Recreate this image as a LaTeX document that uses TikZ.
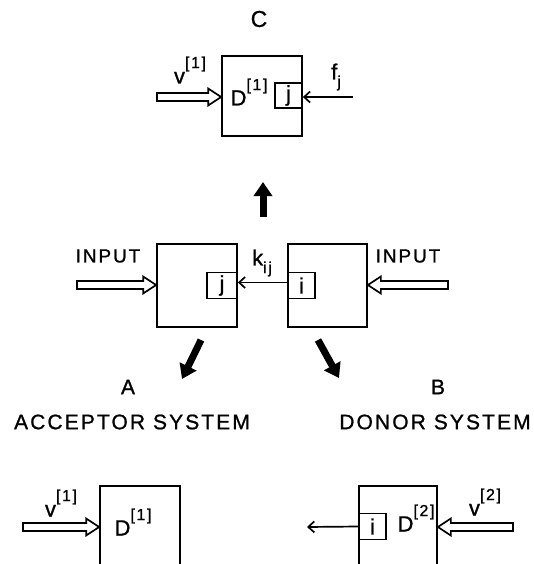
\documentclass[tikz,border=0pt]{standalone}
\usepackage{fontspec}
\setmainfont{Liberation Sans}[LetterSpace=10,FakeBold=1]
\usetikzlibrary{arrows.meta,positioning,calc}

\newcommand{\idx}[2]{#1\raisebox{0.7em}{\fontsize{16}{16}\selectfont[#2]}}
\newcommand{\sub}[2]{#1\raisebox{-0.35em}{\fontsize{16}{16}\selectfont #2}}

\begin{document}
\begin{tikzpicture}[x=1pt,y=-1pt,font=\fontsize{22}{24}\selectfont,
  sysbox/.style={draw,line width=1.7pt,inner sep=0pt},
  cellbox/.style={draw,line width=1.7pt,inner sep=0pt,minimum width=27pt,minimum height=26pt},
  inflow/.style={line width=1.7pt,line join=miter,to path={
    ($(\tikztostart)!4pt!90:(\tikztotarget)$)
    -- ($($(\tikztotarget)!13pt!(\tikztostart)$)!4pt!-90:(\tikztostart)$)
    -- ($($(\tikztotarget)!13pt!(\tikztostart)$)!8.5pt!-90:(\tikztostart)$)
    -- (\tikztotarget)
    -- ($($(\tikztotarget)!13pt!(\tikztostart)$)!8.5pt!90:(\tikztostart)$)
    -- ($($(\tikztotarget)!13pt!(\tikztostart)$)!4pt!90:(\tikztostart)$)
    -- ($(\tikztostart)!4pt!-90:(\tikztotarget)$) -- cycle}},
  coupling/.style={line width=1.7pt,-{Straight Barb[length=6pt,width=11pt]}},
  bigarrow/.style={line width=7pt,-{Triangle[length=14pt,width=18pt]}},
  lbl/.style={inner sep=0pt}]
  \useasboundingbox (0,0) rectangle (533,564);
  \clip (0,0) rectangle (533,564);

  % C: combined system
  \node[lbl,font=\fontsize{23}{24}\selectfont] (labC) at (259,19) {C};
  \node[sysbox,minimum width=80pt,minimum height=80pt] (boxC) at (262,96) {};
  \node[cellbox,minimum height=25pt,anchor=east] (jC) at ([yshift=0.5pt]boxC.east) {j};
  \node[lbl] (DC) at (249,92) {\idx{D}{1}};
  \node[lbl] (vC) at (190,70) {\idx{v}{1}};
  \node[lbl] (fC) at (336,77) {\sub{f}{j}};
  \coordinate (inC) at (157,97);
  \coordinate (fromC) at (353,97);
  \draw[inflow] (inC) to (boxC.west |- inC);
  \draw[coupling] (fromC) -- (jC.east |- fromC);

  % arrow towards C
  \coordinate (upS) at (263,217);
  \coordinate (upE) at (263,182);
  \draw[bigarrow] (upS) -- (upE);

  % coupled systems A and B
  \node[sysbox,minimum width=80pt,minimum height=83pt] (boxA) at (197,285.5) {};
  \node[cellbox,minimum width=30pt,anchor=east] (jA) at (boxA.east) {j};
  \node[sysbox,minimum width=79pt,minimum height=83pt] (boxB) at (327.5,285.5) {};
  \node[cellbox,anchor=west] (iB) at (boxB.west) {i};
  \draw[coupling] ([yshift=3pt]iB.west) -- ([yshift=3pt]jA.east);
  \node[lbl] (kAB) at (262,263) {\sub{k}{ij}};
  \node[lbl,font=\fontsize{19}{20}\selectfont] (inA) at (108,256) {INPUT};
  \node[lbl,font=\fontsize{19}{20}\selectfont] (inB) at (408,256) {INPUT};
  \coordinate (srcA) at (77,285);
  \coordinate (srcB) at (448,285);
  \draw[inflow] (srcA) to (boxA.west |- srcA);
  \draw[inflow] (srcB) to (boxB.east |- srcB);

  % arrows towards A and B
  \coordinate (dlS) at (201,340);
  \coordinate (dlE) at (182,379);
  \coordinate (drS) at (318,340);
  \coordinate (drE) at (339,378);
  \draw[bigarrow] (dlS) -- (dlE);
  \draw[bigarrow] (drS) -- (drE);

  \node[lbl,font=\fontsize{21}{22}\selectfont] (labA) at (128,387) {A};
  \node[lbl,font=\fontsize{21}{22}\selectfont] (labB) at (438,387) {B};
  \node[lbl,font=\fontsize{21}{22}\selectfont] (accA) at (132,422) {ACCEPTOR SYSTEM};
  \node[lbl,font=\fontsize{21}{22}\selectfont] (donB) at (435,422) {DONOR SYSTEM};

  % A: acceptor system
  \node[sysbox,minimum width=80pt,minimum height=160pt,anchor=north] (boxD1) at (140,485) {};
  \node[lbl] (DA) at (133,522) {\idx{D}{1}};
  \node[lbl] (vA) at (61,503) {\idx{v}{1}};
  \coordinate (srcD1) at (23,527);
  \draw[inflow] (srcD1) to (boxD1.west |- srcD1);

  % B: donor system
  \node[sysbox,minimum width=78pt,minimum height=160pt,anchor=north] (boxD2) at (398,485) {};
  \node[cellbox,anchor=west] (iD) at (boxD2.west |- 0,526.5) {i};
  \node[lbl] (DB) at (416,518) {\idx{D}{2}};
  \node[lbl] (vB) at (485,502) {\idx{v}{2}};
  \coordinate (outD2) at (307,527);
  \coordinate (srcD2) at (513,527);
  \draw[coupling] (iD.west) -- (outD2);
  \draw[inflow] (srcD2) to (boxD2.east |- srcD2);
\end{tikzpicture}
\end{document}
